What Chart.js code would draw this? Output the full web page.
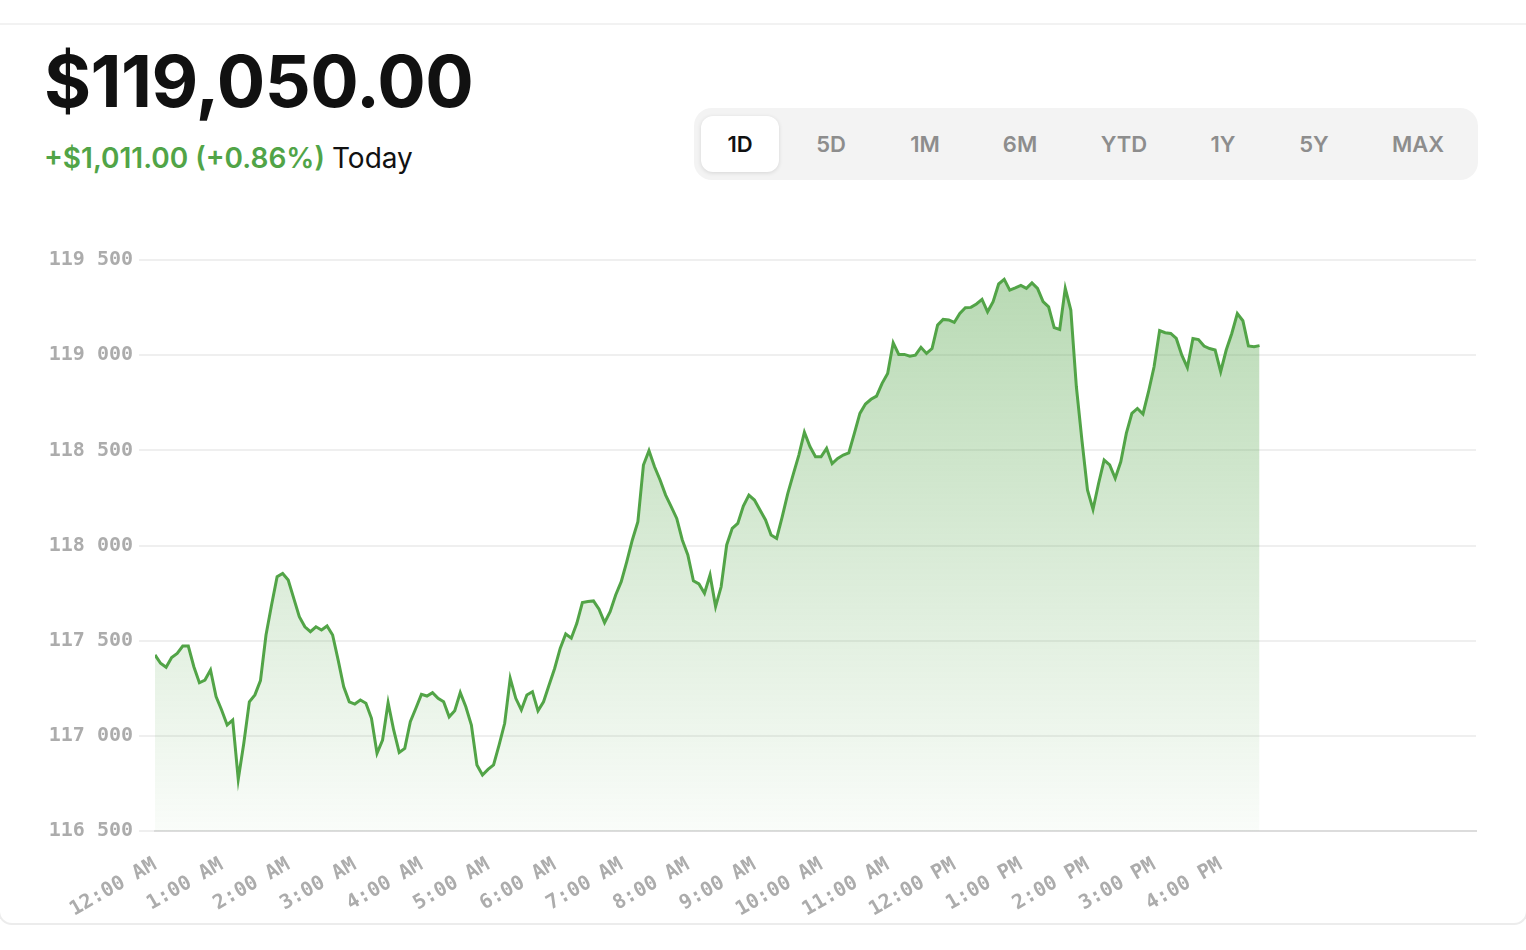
<!DOCTYPE html>
<html>
<head>
<meta charset="utf-8">
<script src="https://cdn.jsdelivr.net/npm/chart.js@4.4.1/dist/chart.umd.min.js"></script>
<style>
  html, body { margin: 0; padding: 0; background: #fff; width: 1526px; height: 950px; overflow: hidden; }
  body { position: relative; font-family: Inter, "Noto Sans", sans-serif; }
  .card {
    position: absolute; left: -2px; top: 23px; width: 1526px; height: 898px;
    border: 2px solid #ececec; border-top-color: #f2f2f2;
    border-radius: 0 0 14px 14px;
  }
  .price {
    position: absolute; left: 44px; top: 45px; line-height: 72px;
    font-size: 72px; font-weight: 700; color: #111; letter-spacing: -0.6px;
  }
  .change {
    position: absolute; left: 44px; top: 144px; line-height: 28px;
    font-size: 28px; font-weight: 600; color: #51a447;
  }
  .change span { color: #111; font-weight: 400; }
  .ranges {
    position: absolute; left: 694px; top: 108px; width: 784px; height: 72px;
    background: #f3f3f3; border-radius: 18px;
  }
  .ranges .btn {
    position: absolute; top: 8px; height: 56px; line-height: 56px;
    font-size: 22px; font-weight: 600; color: #8d8d8d; text-align: center;
    transform: translateX(-50%);
  }
  .ranges .btn.active {
    background: #fff; color: #111; border-radius: 12px;
    box-shadow: 0 1px 4px rgba(0,0,0,0.12);
  }
  #wrap { position: absolute; left: 0; top: 230px; width: 1490px; height: 700px; }
</style>
</head>
<body>
<div class="card"></div>
<div class="price" id="price"></div>
<div class="change" id="change"></div>
<div class="ranges" id="ranges"></div>
<div id="wrap"><canvas id="priceChart"></canvas></div>
<script>
const lastPrice = '$119,050.00';
const dayChange = '+$1,011.00 (+0.86%)';
const rangeLabels = ['1D', '5D', '1M', '6M', 'YTD', '1Y', '5Y', 'MAX'];
const rangeCenters = [46, 137, 231, 326, 430, 529, 620, 724];

// hour tick labels (x axis)
const hourLabels = ['12:00 AM', '1:00 AM', '2:00 AM', '3:00 AM', '4:00 AM', '5:00 AM', '6:00 AM',
  '7:00 AM', '8:00 AM', '9:00 AM', '10:00 AM', '11:00 AM', '12:00 PM', '1:00 PM', '2:00 PM',
  '3:00 PM', '4:00 PM'];

// price every 5 minutes, starting at midnight
const stepMinutes = 5;
const prices = [
  117425, 117381, 117360, 117412, 117433, 117472, 117472, 117363, 117279, 117293,
  117346, 117206, 117136, 117057, 117083, 116772, 116961, 117179, 117215, 117290,
  117530, 117687, 117836, 117853, 117819, 117722, 117626, 117573, 117547, 117573,
  117556, 117577, 117530, 117398, 117258, 117179, 117167, 117188, 117171, 117092,
  116908, 116978, 117174, 117031, 116913, 116934, 117074, 117145, 117218, 117209,
  117227, 117197, 117179, 117100, 117132, 117227, 117153, 117057, 116847, 116794,
  116824, 116847, 116952, 117066, 117302, 117197, 117136, 117215, 117232, 117131,
  117179, 117267, 117354, 117459, 117535, 117513, 117591, 117700, 117706, 117709,
  117665, 117595, 117652, 117740, 117810, 117915, 118029, 118125, 118423, 118498,
  118414, 118344, 118265, 118204, 118142, 118029, 117950, 117815, 117798, 117749,
  117845, 117679, 117783, 118003, 118090, 118116, 118207, 118265, 118239, 118186,
  118134, 118055, 118037, 118151, 118273, 118375, 118475, 118595, 118520, 118466,
  118466, 118510, 118430, 118457, 118475, 118487, 118589, 118694, 118743, 118768,
  118785, 118852, 118904, 119065, 119004, 119004, 118995, 119000, 119041, 119009,
  119035, 119158, 119188, 119185, 119172, 119219, 119249, 119251, 119269, 119293,
  119228, 119281, 119374, 119398, 119342, 119354, 119367, 119351, 119380, 119351,
  119281, 119254, 119145, 119135, 119351, 119237, 118834, 118554, 118292, 118190,
  118326, 118449, 118423, 118353, 118440, 118589, 118694, 118720, 118691, 118808,
  118939, 119129, 119118, 119114, 119088, 119000, 118935, 119088, 119082, 119048,
  119035, 119027, 118913, 119027, 119114, 119219, 119181, 119048, 119044, 119050
];

const yMin = 116500;
const yMax = 119500;
const yStep = 500;
const xMaxMinutes = 1190;

const green = '#52a447';
const tickFont = { family: '"DejaVu Sans Mono", monospace', size: 20, weight: 'bold' };

document.getElementById('price').textContent = lastPrice;
document.getElementById('change').innerHTML = dayChange + ' <span>Today</span>';
const ranges = document.getElementById('ranges');
rangeLabels.forEach((lbl, i) => {
  const b = document.createElement('div');
  b.className = 'btn' + (i === 0 ? ' active' : '');
  b.textContent = lbl;
  b.style.left = rangeCenters[i] + 'px';
  if (i === 0) b.style.width = '78px';
  ranges.appendChild(b);
});

const ctx = document.getElementById('priceChart').getContext('2d');

const chart = new Chart(ctx, {
  type: 'line',
  data: {
    datasets: [{
      label: 'Price',
      data: prices.map((p, i) => ({ x: i * stepMinutes, y: p })),
      borderColor: green,
      borderWidth: 3,
      pointRadius: 0,
      tension: 0,
      fill: 'start',
      backgroundColor: (c) => {
        const area = c.chart.chartArea;
        if (!area) return 'rgba(82,164,71,0.2)';
        const g = c.chart.ctx.createLinearGradient(0, area.top, 0, area.bottom);
        g.addColorStop(0, 'rgba(82,164,71,0.42)');
        g.addColorStop(1, 'rgba(82,164,71,0.03)');
        return g;
      }
    }]
  },
  options: {
    responsive: true,
    maintainAspectRatio: false,
    animation: false,
    layout: { padding: { top: 30, right: 14, left: 0, bottom: 0 } },
    plugins: { legend: { display: false }, tooltip: { enabled: false } },
    scales: {
      x: {
        type: 'linear',
        min: 0,
        max: xMaxMinutes,
        afterBuildTicks: (scale) => {
          scale.ticks = hourLabels.map((_, i) => ({ value: i * 60 }));
        },
        afterFit: (scale) => { scale.height = 99; },
        grid: { display: false, drawTicks: true, tickLength: 8 },
        border: { display: true, color: '#dcdcdc', width: 2 },
        ticks: {
          minRotation: 30,
          maxRotation: 30,
          autoSkip: false,
          padding: 14,
          color: '#acacac',
          font: tickFont,
          callback: (v) => hourLabels[Math.round(v / 60)]
        }
      },
      y: {
        min: yMin,
        max: yMax,
        afterFit: (scale) => { scale.width = 155; },
        grid: { color: '#efefef', lineWidth: 2, tickLength: 16 },
        border: { display: false },
        ticks: {
          stepSize: yStep,
          padding: 6,
          color: '#acacac',
          font: tickFont,
          callback: (v) => String(v).replace(/\B(?=(\d{3})+(?!\d))/g, ' ')
        }
      }
    }
  }
});
</script>
</body>
</html>
